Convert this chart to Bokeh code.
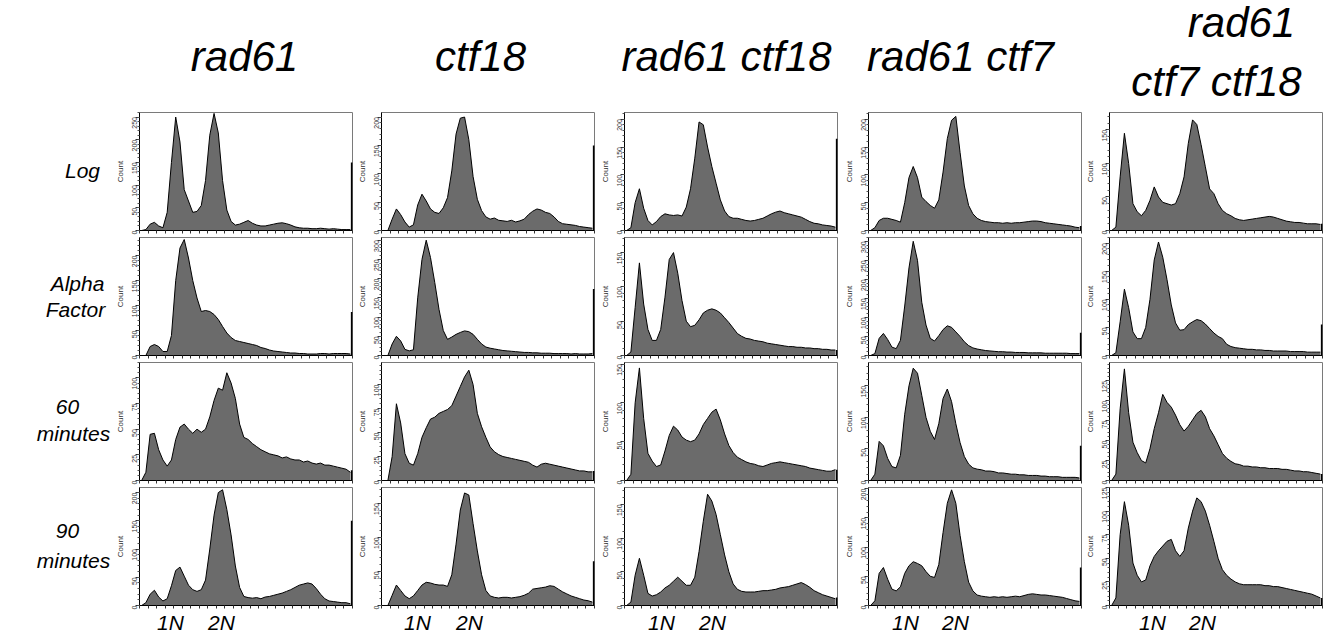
import math
from bokeh.plotting import figure
from bokeh.layouts import row, column
from bokeh.models import Range1d, SingleIntervalTicker, FixedTicker
from bokeh.core.properties import value
from bokeh.embed import file_html
from bokeh.resources import INLINE

# ---------------- data ----------------
STRAINS = ["rad61", "ctf18", "rad61 ctf18", "rad61 ctf7", "rad61 ctf7 ctf18"]
CONDITIONS = ["Log", "Alpha Factor", "60 minutes", "90 minutes"]
PEAK_LABELS = ["1N", "2N"]

# DNA content histograms, 50 channel bins each (counts)
LOG_RAD61 = [0, 2, 14, 18, 10, 6, 40, 150, 250, 195, 90, 65, 40, 42, 55, 110, 210, 258, 215, 110,
             45, 20, 12, 14, 18, 22, 16, 12, 10, 10, 12, 14, 16, 17, 15, 12, 8, 6, 5, 5,
             4, 4, 5, 4, 3, 4, 3, 2, 2, 2]
LOG_CTF18 = [0, 0, 20, 38, 28, 15, 6, 10, 45, 64, 52, 38, 32, 30, 40, 58, 105, 170, 198, 200,
             160, 95, 55, 35, 24, 20, 22, 18, 17, 16, 18, 15, 17, 20, 28, 34, 38, 36, 32, 30,
             24, 16, 12, 11, 10, 9, 7, 6, 5, 4]
LOG_RAD61_CTF18 = [0, 5, 50, 75, 40, 18, 10, 16, 25, 30, 28, 27, 28, 26, 42, 75, 130, 195, 190, 150,
                   115, 85, 55, 35, 25, 22, 22, 20, 18, 17, 18, 20, 22, 26, 30, 33, 35, 32, 30, 28,
                   26, 24, 20, 16, 13, 12, 10, 9, 8, 6]
LOG_RAD61_CTF7 = [0, 5, 18, 22, 22, 20, 18, 15, 50, 95, 115, 95, 60, 52, 45, 40, 55, 105, 165, 198,
                  205, 140, 80, 45, 30, 22, 18, 16, 15, 14, 14, 13, 14, 13, 14, 14, 15, 16, 17, 17,
                  16, 14, 13, 12, 11, 10, 9, 8, 6, 5]
LOG_TRIPLE = [0, 5, 80, 145, 100, 40, 28, 22, 30, 45, 65, 50, 42, 40, 38, 40, 55, 80, 130, 165,
              158, 128, 95, 62, 55, 40, 30, 25, 22, 18, 16, 15, 16, 17, 18, 19, 20, 21, 20, 18,
              16, 14, 13, 12, 12, 11, 10, 10, 10, 9]

ALPHA_RAD61 = [0, 0, 18, 22, 18, 8, 8, 40, 150, 215, 232, 195, 150, 115, 88, 90, 88, 82, 72, 58,
               45, 36, 30, 28, 26, 24, 22, 20, 16, 14, 11, 9, 8, 7, 6, 5, 5, 4, 4, 3,
               3, 3, 4, 4, 3, 4, 4, 4, 4, 3]
ALPHA_CTF18 = [0, 0, 30, 50, 38, 16, 12, 15, 150, 250, 300, 255, 190, 120, 65, 42, 48, 55, 60, 64,
               62, 55, 42, 30, 22, 19, 17, 15, 13, 12, 11, 10, 9, 8, 8, 7, 7, 6, 6, 6,
               5, 5, 5, 5, 4, 5, 4, 4, 4, 5]
ALPHA_RAD61_CTF18 = [0, 5, 70, 135, 75, 38, 22, 22, 38, 85, 140, 150, 120, 80, 50, 42, 44, 52, 62, 66,
                     68, 66, 62, 55, 48, 40, 32, 28, 25, 24, 22, 21, 20, 18, 17, 16, 15, 14, 13, 13,
                     12, 12, 11, 11, 10, 10, 9, 9, 8, 8]
ALPHA_RAD61_CTF7 = [0, 5, 45, 58, 42, 22, 18, 40, 130, 230, 300, 250, 140, 80, 45, 38, 52, 68, 78, 74,
                    62, 50, 36, 26, 20, 17, 15, 13, 12, 11, 10, 10, 9, 9, 8, 8, 8, 7, 7, 7,
                    7, 6, 6, 6, 6, 6, 6, 5, 5, 5]
ALPHA_TRIPLE = [0, 5, 60, 118, 85, 42, 30, 30, 50, 100, 170, 202, 175, 135, 90, 58, 45, 46, 55, 60,
                64, 62, 56, 48, 40, 34, 30, 20, 16, 14, 13, 12, 11, 11, 10, 10, 9, 9, 8, 8,
                8, 8, 7, 7, 7, 7, 6, 6, 6, 6]

M60_RAD61 = [0, 8, 45, 46, 30, 20, 14, 20, 40, 52, 55, 50, 46, 50, 47, 50, 62, 78, 90, 88,
             105, 95, 80, 55, 42, 40, 36, 33, 30, 28, 26, 25, 24, 22, 23, 21, 20, 20, 18, 19,
             17, 16, 17, 15, 15, 14, 13, 12, 11, 8]
M60_CTF18 = [0, 0, 25, 80, 60, 28, 18, 16, 28, 45, 55, 64, 66, 70, 72, 74, 78, 88, 98, 108,
             115, 100, 70, 56, 45, 35, 30, 27, 25, 24, 23, 22, 21, 20, 19, 16, 14, 17, 18, 17,
             16, 15, 14, 13, 12, 11, 10, 10, 9, 9]
M60_RAD61_CTF18 = [0, 8, 100, 145, 80, 35, 25, 18, 20, 38, 58, 70, 65, 56, 52, 50, 52, 60, 72, 80,
                   88, 92, 78, 60, 45, 36, 30, 27, 24, 22, 21, 19, 18, 20, 22, 23, 24, 23, 22, 21,
                   20, 19, 18, 16, 15, 14, 13, 12, 12, 14]
M60_RAD61_CTF7 = [0, 10, 62, 55, 35, 22, 20, 40, 105, 150, 178, 170, 135, 100, 78, 65, 90, 130, 145, 125,
                  90, 60, 38, 26, 20, 18, 17, 15, 15, 14, 12, 12, 11, 10, 10, 9, 9, 8, 8, 8,
                  7, 7, 6, 6, 6, 5, 5, 5, 5, 4]
M60_TRIPLE = [0, 8, 90, 140, 85, 48, 35, 25, 22, 40, 65, 85, 108, 98, 92, 82, 70, 62, 68, 76,
              84, 88, 80, 65, 56, 45, 34, 28, 24, 21, 20, 18, 18, 17, 17, 16, 16, 15, 15, 15,
              14, 14, 13, 12, 12, 11, 11, 10, 9, 8]

M90_RAD61 = [0, 5, 20, 27, 15, 8, 12, 35, 62, 68, 52, 36, 28, 25, 28, 45, 100, 160, 200, 205,
             170, 125, 70, 32, 16, 14, 13, 14, 12, 15, 16, 18, 20, 22, 25, 28, 32, 36, 38, 40,
             38, 30, 20, 12, 8, 7, 6, 5, 5, 3]
M90_CTF18 = [0, 0, 15, 30, 22, 14, 10, 14, 22, 30, 34, 33, 31, 30, 30, 28, 45, 90, 140, 165,
             162, 120, 80, 45, 22, 14, 12, 11, 12, 12, 11, 12, 13, 15, 18, 24, 25, 26, 27, 29,
             28, 24, 20, 17, 14, 12, 10, 8, 7, 5]
M90_RAD61_CTF18 = [0, 5, 45, 70, 45, 18, 14, 16, 20, 26, 30, 36, 42, 36, 30, 30, 42, 80, 125, 165,
                   155, 135, 105, 75, 50, 32, 24, 21, 20, 20, 20, 21, 22, 22, 23, 24, 26, 27, 28, 30,
                   32, 34, 31, 27, 22, 19, 16, 14, 12, 10]
M90_RAD61_CTF7 = [0, 8, 55, 65, 45, 28, 25, 32, 55, 68, 75, 72, 68, 58, 50, 48, 70, 125, 175, 198,
                  175, 120, 75, 40, 25, 18, 16, 15, 14, 15, 14, 15, 14, 15, 16, 15, 17, 19, 20, 19,
                  18, 18, 17, 16, 15, 14, 12, 10, 8, 7]
M90_TRIPLE = [0, 8, 75, 110, 85, 45, 32, 25, 27, 42, 52, 58, 63, 68, 70, 58, 52, 58, 82, 100,
              114, 110, 100, 85, 68, 50, 38, 32, 28, 25, 23, 22, 22, 22, 22, 22, 21, 21, 20, 20,
              19, 18, 17, 16, 15, 14, 13, 12, 10, 8]

# off-scale events piled in the last channel (right-edge spike)
EDGE_LOG = [150, 150, 165, 8, 10]
EDGE_ALPHA = [87, 173, 8, 60, 55]
EDGE_60 = [10, 10, 14, 55, 8]
EDGE_90 = [150, 65, 12, 65, 8]

# y-axis maxima and labelled tick steps
YMAX_LOG = [260, 208, 212, 212, 176]
YMAX_ALPHA = [236, 307, 172, 310, 210]
YMAX_60 = [115, 123, 152, 187, 148]
YMAX_90 = [209, 173, 175, 202, 125]
STEP_LOG = [50, 50, 50, 50, 50]
STEP_ALPHA = [50, 50, 50, 50, 50]
STEP_60 = [25, 25, 50, 50, 25]
STEP_90 = [50, 50, 50, 50, 25]

N_CHANNELS = 1000

GRID = [
    [LOG_RAD61, LOG_CTF18, LOG_RAD61_CTF18, LOG_RAD61_CTF7, LOG_TRIPLE],
    [ALPHA_RAD61, ALPHA_CTF18, ALPHA_RAD61_CTF18, ALPHA_RAD61_CTF7, ALPHA_TRIPLE],
    [M60_RAD61, M60_CTF18, M60_RAD61_CTF18, M60_RAD61_CTF7, M60_TRIPLE],
    [M90_RAD61, M90_CTF18, M90_RAD61_CTF18, M90_RAD61_CTF7, M90_TRIPLE],
]
EDGES = [EDGE_LOG, EDGE_ALPHA, EDGE_60, EDGE_90]
YMAXES = [YMAX_LOG, YMAX_ALPHA, YMAX_60, YMAX_90]
STEPS = [STEP_LOG, STEP_ALPHA, STEP_60, STEP_90]

# ---------------- styling / layout ----------------
FONT = "Liberation Sans"
FILL = "#6b6b6b"
FRAME_W, FRAME_H = 213, 118
BORDER_L = 27
PANEL_WIDTHS = [242, 243, 244, 241, 242]
PANEL_H = 125
LEFT_W = 112
HEADER_H = 110
FOOTER_H = 24
TOTAL_W = LEFT_W + sum(PANEL_WIDTHS)


def blank(width, height):
    p = figure(width=width, height=height, x_range=Range1d(0, width), y_range=Range1d(height, 0),
               output_backend="svg", toolbar_location=None, min_border=0)
    p.axis.visible = False
    p.grid.visible = False
    p.outline_line_color = None
    p.background_fill_color = None
    p.border_fill_color = None
    return p


def panel(counts, ymax, step, edge, width):
    nb = len(counts)
    bw = N_CHANNELS / nb
    xs = [bw * (i + 0.5) for i in range(nb)]
    p = figure(frame_width=FRAME_W, frame_height=FRAME_H,
               x_range=Range1d(0, N_CHANNELS), y_range=Range1d(0, ymax),
               output_backend="svg", toolbar_location=None,
               min_border_left=BORDER_L, min_border_right=width - BORDER_L - FRAME_W,
               min_border_top=2, min_border_bottom=PANEL_H - FRAME_H - 2)
    p.grid.visible = False
    p.outline_line_color = "#7a7a7a"
    p.outline_line_width = 1
    p.background_fill_color = "white"
    p.varea(x=xs, y1=[0] * nb, y2=counts, fill_color=FILL, fill_alpha=1)
    p.line(x=xs, y=counts, line_color="black", line_width=1)
    p.segment(x0=[N_CHANNELS - 3], y0=[0], x1=[N_CHANNELS - 3], y1=[edge],
              line_color="black", line_width=2)

    xa = p.xaxis[0]
    xa.ticker = FixedTicker(ticks=[], minor_ticks=list(range(0, N_CHANNELS + 1, 40)))
    xa.major_label_standoff = 0
    xa.major_tick_out = 0
    xa.major_tick_in = 0
    xa.minor_tick_out = 3
    xa.minor_tick_in = 0
    xa.axis_line_color = "black"
    xa.minor_tick_line_color = "#333333"

    ya = p.yaxis[0]
    ya.ticker = SingleIntervalTicker(interval=step, num_minor_ticks=5)
    ya.major_label_orientation = math.pi / 2
    ya.major_label_text_font = FONT
    ya.major_label_text_font_size = "7px"
    ya.major_label_text_color = "#333333"
    ya.major_label_standoff = 1
    ya.major_tick_out = 4
    ya.major_tick_in = 0
    ya.minor_tick_out = 2
    ya.minor_tick_in = 0
    ya.axis_line_color = "black"
    ya.major_tick_line_color = "#333333"
    ya.minor_tick_line_color = "#555555"
    ya.axis_label = "Count"
    ya.axis_label_text_font = FONT
    ya.axis_label_text_font_style = "normal"
    ya.axis_label_text_font_size = "8px"
    ya.axis_label_text_color = "#333333"
    ya.axis_label_standoff = 2
    return p


# header with strain names
header = blank(TOTAL_W, HEADER_H)
title_x = [244, 480, 726, 960, 1216]
title_lines = [[s] for s in STRAINS[:4]] + [[STRAINS[4].split(" ")[0], " ".join(STRAINS[4].split(" ")[1:])]]
tx, ty, tt = [], [], []
for cx, lines in zip(title_x, title_lines):
    if len(lines) == 1:
        tx.append(cx); ty.append(56); tt.append(lines[0])
    else:
        tx.append(cx + 25); ty.append(22); tt.append(lines[0])
        tx.append(cx); ty.append(81); tt.append(lines[1])
header.text(x=tx, y=ty, text=tt, text_font=value(FONT), text_font_style="italic",
            text_font_size="42px", text_align="center", text_baseline="alphabetic", text_color="black")

# left column with condition names
left = blank(LEFT_W, PANEL_H * 4)
cond_pos = [[(82, 60)], [(77, 173), (75, 199)], [(67, 296), (73, 323)], [(67, 420), (73, 450)]]
lx, ly, lt = [], [], []
for cond, poss in zip(CONDITIONS, cond_pos):
    words = [cond] if len(poss) == 1 else cond.split(" ")
    for w, (x, y) in zip(words, poss):
        lx.append(x); ly.append(y); lt.append(w)
left.text(x=lx, y=ly, text=lt, text_font=value(FONT), text_font_style="italic",
          text_font_size="21px", text_align="center", text_baseline="middle", text_color="black")

# panels
rows = []
for r in range(4):
    panels = [panel(GRID[r][c], YMAXES[r][c], STEPS[r][c], EDGES[r][c], PANEL_WIDTHS[c]) for c in range(5)]
    rows.append(row(*panels, spacing=0))
grid = column(*rows, spacing=0)

# footer with 1N / 2N markers
footer = blank(TOTAL_W, FOOTER_H)
n1_x = [170, 417, 661, 905, 1152]
n2_x = [221, 469, 712, 955, 1202]
fx = n1_x + n2_x
ft = [PEAK_LABELS[0]] * 5 + [PEAK_LABELS[1]] * 5
footer.text(x=fx, y=[12] * 10, text=ft, text_font=value(FONT), text_font_style="italic",
            text_font_size="21px", text_align="center", text_baseline="middle", text_color="black")

layout = column(header, row(left, grid, spacing=0), footer, spacing=0)

open("out.html", "w").write(file_html(layout, INLINE))
